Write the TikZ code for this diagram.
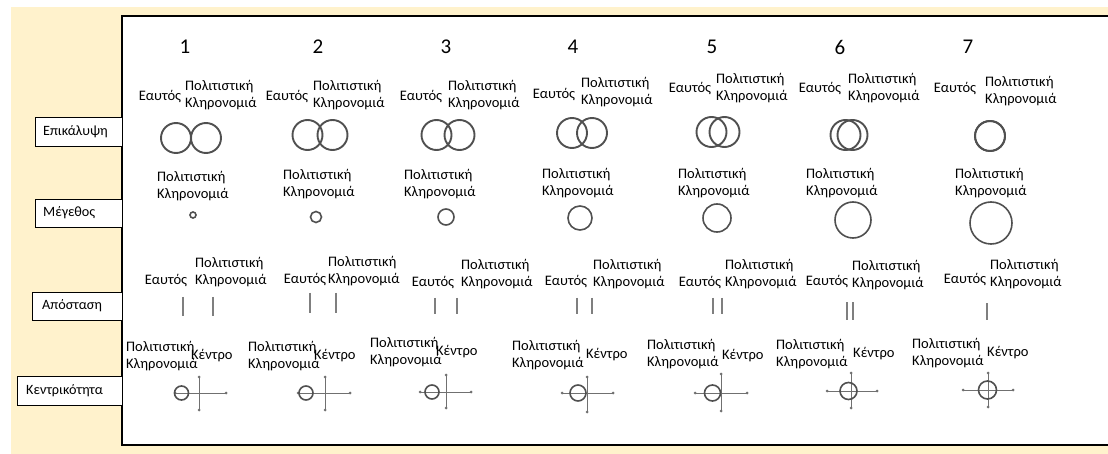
\documentclass[tikz,border=0pt]{standalone}
\usepackage{fontspec}
\setmainfont{Carlito}
\definecolor{cream}{HTML}{FFF2CC}
\definecolor{ringc}{HTML}{505050}
\definecolor{barc}{HTML}{7F7F7F}
\definecolor{axisc}{HTML}{707070}
\begin{document}
\begin{tikzpicture}[x=1pt,y=-1pt,
  txt/.style={inner sep=0pt, font=\fontsize{14.5}{17.5}\selectfont, align=left},
  num/.style={inner sep=0pt, font=\fontsize{21}{24}\selectfont},
  lbl/.style={inner sep=0pt, font=\fontsize{14.2}{16}\selectfont, anchor=west},
  lblbox/.style={draw=black, line width=0.8pt, fill=white},
  ringst/.style={draw=ringc, line width=1.9pt},
  sizest/.style={draw=ringc, line width=1.6pt},
  barst/.style={draw=barc, line width=2pt},
  axisst/.style={draw=axisc, line width=1pt},
  cring/.style={draw=ringc, line width=1.6pt},
  dotst/.style={fill=axisc}]
\path[use as bounding box] (0,0) rectangle (1108,454);
\clip (0,0) rectangle (1108,454);
% background
\fill[cream] (11,7) rectangle (1110,456);
\fill[white] (122,16) rectangle (1115,445);
\draw[line width=1.3pt] (1115,16) -- (122,16) -- (122,445) -- (1115,445);
% row labels
\draw[lblbox] (35,117) rectangle (122,146);
\node[lbl] (lab1) at (43,131.5) {Επικάλυψη};
\draw[lblbox] (35,199) rectangle (122,227);
\node[lbl] (lab2) at (43,213) {Μέγεθος};
\draw[lblbox] (32,292) rectangle (122,320);
\node[lbl] (lab3) at (42,306) {Απόσταση};
\draw[lblbox] (17,376) rectangle (122,405);
\node[lbl] (lab4) at (26,390.5) {Κεντρικότητα};
% column numbers
\foreach \i/\x in {1/185,2/318,3/446,4/573,5/712,6/840,7/968}{
  \node[num] (n\i) at (\x,47) {\i};
}
% row 1: overlap
\foreach \i/\ex/\ey/\bx/\by/\cx/\cy/\d in {1/160/97/185/95/191/138/30, 2/287/97/313/95/320/135/25, 3/421/97/448/95/448/135/23, 4/554/95/581/92/582/133/20, 5/690/89/716/88/718/132/13, 6/820/89/848/88/849/135/7, 7/955/89/985/91/990/136/0}{
  \node[txt] (selfA\i) at (\ex,\ey) {Εαυτός};
  \node[txt,anchor=west] (herA\i) at (\bx,\by) {Πολιτιστική\\Κληρονομιά};
  \draw[ringst] (\cx-\d/2,\cy) circle[radius=15];
  \draw[ringst] (\cx+\d/2,\cy) circle[radius=15];
}
% row 2: size
\foreach \i/\bx/\by/\cx/\cy/\rr in {1/157/186/193/215/3, 2/283/184/316/217/5.5, 3/404/184/446/217/8, 4/542/183/580/218/12, 5/678/183/717/218/14, 6/806/183/853/220/18, 7/955/183/991/223/21}{
  \node[txt,anchor=west] (herB\i) at (\bx,\by) {Πολιτιστική\\Κληρονομιά};
  \draw[sizest] (\cx,\cy) circle[radius=\rr];
}
% row 3: distance
\foreach \i/\ex/\ey/\bx/\by/\xa/\xb/\ya/\yb in {1/166/281/195/272/183/213/297/316, 2/305/280/328/271/310/336/293/313, 3/433/283/461/274/435/457/298/314, 4/566/282/593/274/577/592/298/314, 5/700/283/725/274/713/722/298/314, 6/827/282/852/275/847/853/302/320, 7/965/280/990/274/987/987/303/320}{
  \node[txt] (selfC\i) at (\ex,\ey) {Εαυτός};
  \node[txt,anchor=west] (herC\i) at (\bx,\by) {Πολιτιστική\\Κληρονομιά};
  \draw[barst] (\xa,\ya) -- (\xa,\yb);
  \draw[barst] (\xb,\ya) -- (\xb,\yb);
}
% row 4: centrality
\foreach \i/\bx/\by/\kx/\ky/\vx/\vy/\ccx/\crad/\hl/\hr/\vt/\vb in {
  1/126/356/191/356/199/393/181.5/7/175/226/377/410,
  2/248/356/314/356/325/393/306/7/298/350/377/410,
  3/370/352/436/352/446/392/432/7/420/471/375/408,
  4/512/355/586/355/587/393/578/8/562/613/377/412,
  5/647/354/722/356/721/393/712.5/8/695/747/374/411,
  6/776/354/853/354/851/391/848.5/8.5/827/877/373/408,
  7/912/353/987/353/988/390/987.5/9/963/1013/373/407}{
  \node[txt,anchor=west] (herD\i) at (\bx,\by) {Πολιτιστική\\Κληρονομιά};
  \node[txt,anchor=west] (ctr\i) at (\kx,\ky) {Κέντρο};
  \draw[axisst] (\hl,\vy) -- (\hr,\vy);
  \draw[axisst] (\vx,\vt) -- (\vx,\vb);
  \fill[dotst] (\hl,\vy) circle[radius=1.5];
  \fill[dotst] (\hr,\vy) circle[radius=1.5];
  \fill[dotst] (\vx,\vt) circle[radius=1.5];
  \fill[dotst] (\vx,\vb) circle[radius=1.5];
  \draw[cring] (\ccx,\vy) circle[radius=\crad];
}
\end{tikzpicture}
\end{document}
